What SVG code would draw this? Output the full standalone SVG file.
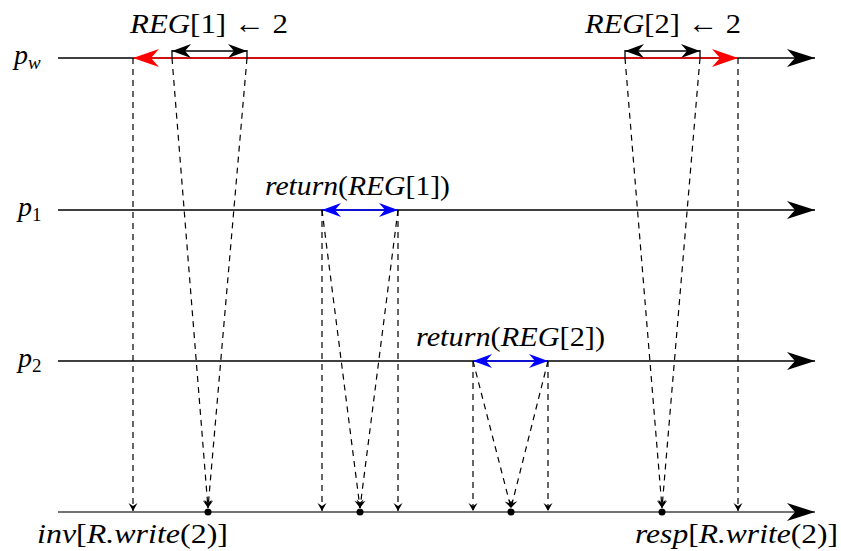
<svg xmlns="http://www.w3.org/2000/svg" width="841" height="551" viewBox="0 0 841 551">
<style>
.t{font-family:"Liberation Serif","Times New Roman",serif;font-size:28px;fill:#000}
.i{font-style:italic}
.ln{stroke:#000;stroke-width:1.3;fill:none}
.d{stroke:#000;stroke-width:1.2;fill:none;stroke-dasharray:6 5;marker-end:url(#ah)}
</style>
<defs>
<marker id="ah" markerUnits="userSpaceOnUse" viewBox="-10 -6 12 12" refX="0" refY="0" markerWidth="12" markerHeight="12" orient="auto">
<path d="M0,0 L-8,-4.5 L-5,0 L-8,4.5 Z" fill="#000"/>
</marker>
<marker id="big" markerUnits="userSpaceOnUse" viewBox="-30 -11 32 22" refX="0" refY="0" markerWidth="32" markerHeight="22" orient="auto">
<path d="M0,0 L-28,-9 L-20,0 L-28,9 Z" fill="#000"/>
</marker>
<marker id="redh" markerUnits="userSpaceOnUse" viewBox="-30 -11 32 22" refX="0" refY="0" markerWidth="32" markerHeight="22" orient="auto-start-reverse">
<path d="M0,0 L-26,-9 L-18,0 L-26,9 Z" fill="#f00"/>
</marker>
<marker id="sm" markerUnits="userSpaceOnUse" viewBox="-22 -8 24 16" refX="0" refY="0" markerWidth="24" markerHeight="16" orient="auto-start-reverse">
<path d="M0,0 L-19,-7 L-13,0 L-19,7 Z" fill="#000"/>
</marker>
<marker id="bl" markerUnits="userSpaceOnUse" viewBox="-22 -8 24 16" refX="0" refY="0" markerWidth="24" markerHeight="16" orient="auto-start-reverse">
<path d="M0,0 L-19,-7 L-13,0 L-19,7 Z" fill="#00f"/>
</marker>
</defs>

<g id="timelines">
<line id="line-pw" class="ln" x1="58" y1="58" x2="815" y2="58" marker-end="url(#big)"/>
<line id="line-p1" class="ln" x1="58" y1="210" x2="815" y2="210" marker-end="url(#big)"/>
<line id="line-p2" class="ln" x1="58" y1="361" x2="815" y2="361" marker-end="url(#big)"/>
<line id="line-r" x1="58" y1="512" x2="815" y2="512" stroke="#444" stroke-width="1.3" marker-end="url(#big)"/>
</g>

<g id="labels">
<text class="t i" x="14" y="64">p<tspan font-size="19" dy="5">w</tspan></text>
<text class="t i" x="18" y="216">p<tspan font-size="19" dy="5" font-style="normal">1</tspan></text>
<text class="t i" x="18" y="367">p<tspan font-size="19" dy="5" font-style="normal">2</tspan></text>
<text class="t" x="130" y="33" textLength="158" lengthAdjust="spacingAndGlyphs"><tspan class="i">REG</tspan>[1] ← 2</text>
<text class="t" x="585" y="33" textLength="156" lengthAdjust="spacingAndGlyphs"><tspan class="i">REG</tspan>[2] ← 2</text>
<text class="t" x="265" y="195" textLength="185" lengthAdjust="spacingAndGlyphs"><tspan class="i">return</tspan>(<tspan class="i">REG</tspan>[1])</text>
<text class="t" x="416" y="346" textLength="189" lengthAdjust="spacingAndGlyphs"><tspan class="i">return</tspan>(<tspan class="i">REG</tspan>[2])</text>
<text class="t" x="37" y="543" textLength="191" lengthAdjust="spacingAndGlyphs"><tspan class="i">inv</tspan>[<tspan class="i">R.write</tspan>(2)]</text>
<text class="t" x="635" y="543" textLength="203" lengthAdjust="spacingAndGlyphs"><tspan class="i">resp</tspan>[<tspan class="i">R.write</tspan>(2)]</text>
</g>

<g id="intervals">
<line id="write-span" x1="133" y1="58" x2="738" y2="58" stroke="#f00" stroke-width="1.5" marker-start="url(#redh)" marker-end="url(#redh)"/>
<g id="reg1-write">
<line class="ln" x1="172" y1="51" x2="247" y2="51" marker-start="url(#sm)" marker-end="url(#sm)"/>
<line class="ln" x1="172" y1="50" x2="172" y2="58"/>
<line class="ln" x1="247" y1="50" x2="247" y2="58"/>
</g>
<g id="reg2-write">
<line class="ln" x1="625" y1="51" x2="700" y2="51" marker-start="url(#sm)" marker-end="url(#sm)"/>
<line class="ln" x1="625" y1="50" x2="625" y2="58"/>
<line class="ln" x1="700" y1="50" x2="700" y2="58"/>
</g>
<line id="reg1-read" x1="322" y1="210" x2="398" y2="210" stroke="#00f" stroke-width="1.5" marker-start="url(#bl)" marker-end="url(#bl)"/>
<line id="reg2-read" x1="473" y1="361" x2="548" y2="361" stroke="#00f" stroke-width="1.5" marker-start="url(#bl)" marker-end="url(#bl)"/>
</g>

<g id="connectors">
<line class="d" x1="133" y1="58" x2="133" y2="511"/>
<line class="d" x1="172" y1="58" x2="208" y2="508"/>
<line class="d" x1="247" y1="58" x2="208" y2="508"/>
<line class="d" x1="625" y1="58" x2="662" y2="508"/>
<line class="d" x1="700" y1="58" x2="662" y2="508"/>
<line class="d" x1="738" y1="58" x2="738" y2="511"/>
<line class="d" x1="322" y1="210" x2="322" y2="511"/>
<line class="d" x1="322" y1="210" x2="360" y2="508"/>
<line class="d" x1="398" y1="210" x2="360" y2="508"/>
<line class="d" x1="398" y1="210" x2="398" y2="511"/>
<line class="d" x1="473" y1="361" x2="473" y2="511"/>
<line class="d" x1="473" y1="361" x2="511" y2="508"/>
<line class="d" x1="548" y1="361" x2="511" y2="508"/>
<line class="d" x1="548" y1="361" x2="548" y2="511"/>
</g>

<g id="points">
<circle cx="208" cy="512" r="3.5" fill="#000"/>
<circle cx="360" cy="512" r="3.5" fill="#000"/>
<circle cx="511" cy="512" r="3.5" fill="#000"/>
<circle cx="662" cy="512" r="3.5" fill="#000"/>
</g>
</svg>
